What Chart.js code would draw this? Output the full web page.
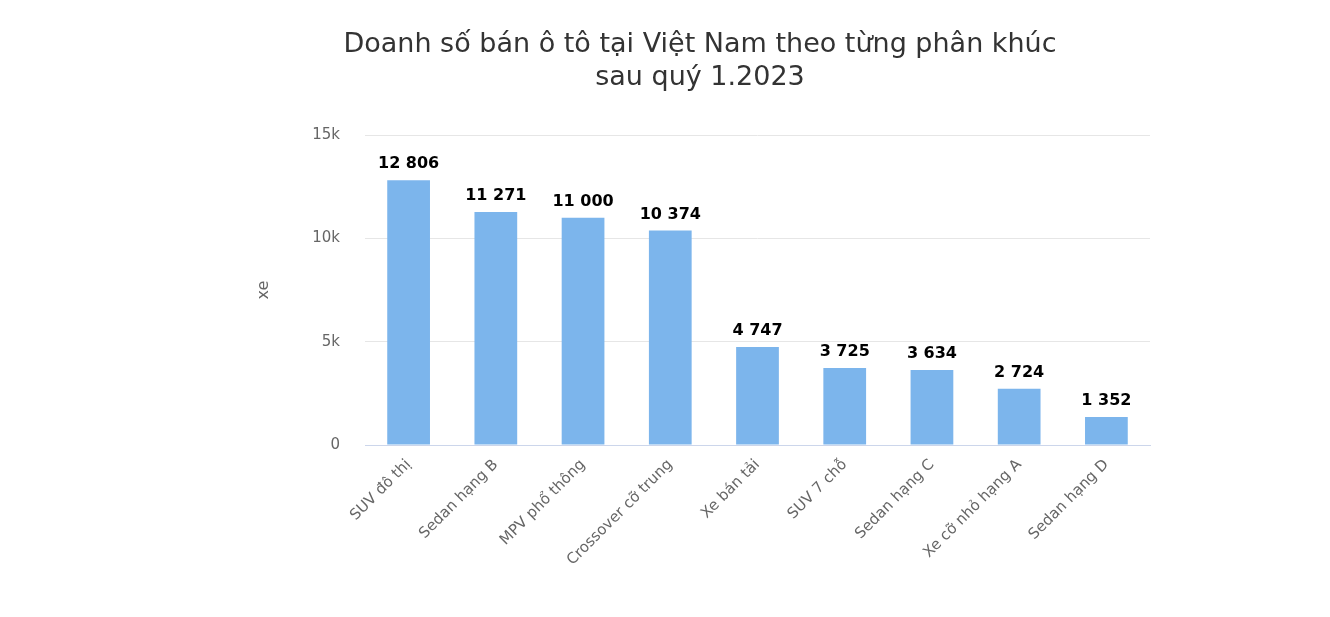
<!DOCTYPE html>
<html><head><meta charset="utf-8">
<script src="https://cdn.jsdelivr.net/npm/chart.js@4"></script>
<style>html,body{margin:0;padding:0;background:#fff}#w{width:1330px;height:617px}</style>
</head><body><div id="w"><canvas id="c"></canvas></div>
<script>
const categories = ["SUV đô thị","Sedan hạng B","MPV phổ thông","Crossover cỡ trung","Xe bán tải","SUV 7 chỗ","Sedan hạng C","Xe cỡ nhỏ hạng A","Sedan hạng D"];
const sales = [12806,11271,11000,10374,4747,3725,3634,2724,1352];
const titleLines = ["Doanh số bán ô tô tại Việt Nam theo từng phân khúc","sau quý 1.2023"];
const fmt = v => String(v).replace(/\B(?=(\d{3})+(?!\d))/g, " ");
const deco = {
  id:'deco',
  afterDraw(ch){
    const ctx=ch.ctx; ctx.save();
    ctx.fillStyle='#333'; ctx.font='27px "DejaVu Sans"'; ctx.textAlign='center'; ctx.textBaseline='middle';
    ctx.fillText(titleLines[0],700,45); ctx.fillText(titleLines[1],700,78);
    const meta=ch.getDatasetMeta(0);
    ctx.fillStyle='#000'; ctx.font='bold 16px "DejaVu Sans"'; ctx.textBaseline='bottom';
    meta.data.forEach((b,i)=>ctx.fillText(fmt(sales[i]),b.x,b.y-8));
    ctx.restore();
  }
};
new Chart(document.getElementById('c'),{
  type:'bar',
  data:{labels:categories,datasets:[{data:sales,backgroundColor:'#7cb5ec',categoryPercentage:1,barPercentage:0.49}]},
  options:{responsive:true,maintainAspectRatio:false,animation:false,
    layout:{padding:{left:250,right:180,top:135,bottom:0}},
    plugins:{legend:{display:false},tooltip:{enabled:false}},
    scales:{
      y:{min:0,max:15000,ticks:{stepSize:5000,color:'#666',font:{size:15,family:'DejaVu Sans'},callback:v=>v===0?'0':(v/1000)+'k',padding:25},
        grid:{color:'#e6e6e6',drawTicks:false},border:{display:false},
        title:{display:true,text:'xe',color:'#666',font:{size:16,family:'DejaVu Sans'}},
        afterFit:s=>{s.width=115}},
      x:{ticks:{color:'#666',font:{size:15,family:'DejaVu Sans'},minRotation:45,maxRotation:45,autoSkip:false},
        grid:{display:false},border:{color:'#ccd6eb'},
        afterFit:s=>{s.height=172}}
    }},
  plugins:[deco]
});
</script></body></html>
